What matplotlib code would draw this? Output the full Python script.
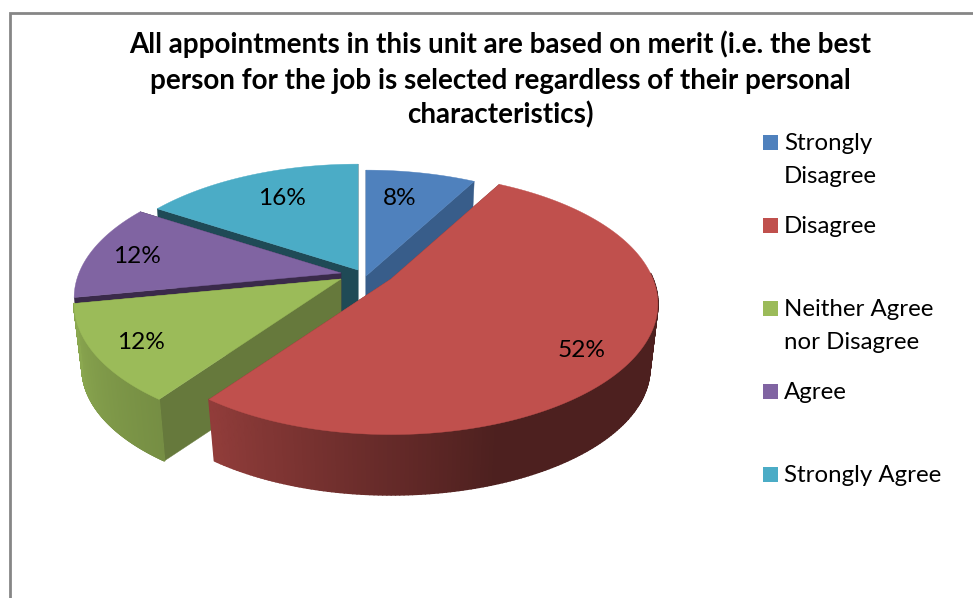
import numpy as np
import matplotlib
matplotlib.use('Agg')
import matplotlib.pyplot as plt
from matplotlib.collections import PolyCollection
from matplotlib.patches import Rectangle

title_lines = ['All appointments in this unit are based on merit (i.e. the best',
               'person for the job is selected regardless of their personal',
               'characteristics)']
categories = ['Strongly\nDisagree', 'Disagree', 'Neither Agree\nnor Disagree', 'Agree', 'Strongly Agree']
values = [8, 52, 12, 12, 16]

# colours for top and cut faces
top_colors = ['#4f81bd', '#c0504d', '#9bbb59', '#8064a2', '#4bacc6']
cut_colors = ['#385d8a', '#7a3230', '#66793c', '#3a2a4a', '#1f4a56']

# layout, in pixels of the picture
apexes = [(366, 276), (391, 279), (341, 279), (341, 273), (358, 270)]
label_pos = [(400, 205), (582, 357), (141, 349), (137, 263), (282, 205)]
draw_order = [4, 0, 3, 2, 1]
rim_slices = [1, 2]  # the others have their rim hidden behind these
radius_x = 262
radius_y = 126
persp = 0.19
bottom_scale = 0.97
bottom_drop = 65

plt.rcParams['font.family'] = ['Lato', 'DejaVu Sans']


def project(theta, r, apex, bottom=False):
    px = r * np.sin(theta)
    py = r * np.cos(theta)
    s = 1 / (1 + persp * py)
    if bottom:
        s = s * bottom_scale
    x = apex[0] + radius_x * px * s
    y = apex[1] - radius_y * py * s
    if bottom:
        y = y + bottom_drop
    return x, y


def shade(color, deg):
    # side gets darker towards the right hand side
    f = np.interp(deg, [160, 216, 259, 300], [0.40, 0.76, 0.90, 0.90])
    return tuple(c * f for c in matplotlib.colors.to_rgb(color))


fig = plt.figure(figsize=(9.73, 5.98), dpi=100)
ax = fig.add_axes([0, 0, 1, 1])
ax.set_xlim(0, 973)
ax.set_ylim(598, 0)
ax.axis('off')

# outer frame, only left and top are in the crop
ax.plot([9.5, 9.5, 973], [598, 12.5, 12.5], color='#868686', lw=2, solid_joinstyle='miter')

stops = np.cumsum([0] + values) / sum(values) * 2 * np.pi

for i in draw_order:
    apex = apexes[i]
    t0, t1 = stops[i], stops[i + 1]
    arc = np.linspace(t0, t1, 240)

    # the two cut faces
    for t in (t0, t1):
        xt, yt = project(t, 1, apex)
        xb, yb = project(t, 1, apex, bottom=True)
        ax_, ay_ = project(t, 0, apex)
        bx_, by_ = project(t, 0, apex, bottom=True)
        ax.fill([ax_, xt, xb, bx_], [ay_, yt, yb, by_], color=cut_colors[i], lw=0.3)

    # rim, small quads so it can carry the gradient. back half is not seen
    xt, yt = project(arc, 1, apex)
    xb, yb = project(arc, 1, apex, bottom=True)
    if i in rim_slices:
        quads = []
        cols = []
        for k in range(len(arc) - 1):
            if np.cos(arc[k]) > 0.05:
                continue
            quads.append([(xt[k], yt[k]), (xt[k + 1], yt[k + 1]), (xb[k + 1], yb[k + 1]), (xb[k], yb[k])])
            cols.append(shade(top_colors[i], np.degrees(arc[k])))
        ax.add_collection(PolyCollection(quads, facecolors=cols, edgecolors=cols, linewidths=1.2))

    # top
    ax.fill(np.r_[apex[0], xt], np.r_[apex[1], yt], color=top_colors[i], lw=0.3)

for i, v in enumerate(values):
    ax.text(label_pos[i][0], label_pos[i][1], '%d%%' % v, fontsize=17.6, ha='center', va='baseline', color='black')

for line, y in zip(title_lines, [53, 89, 123]):
    ax.text(500.5, y, line, fontsize=20.0, fontweight='bold', ha='center', va='baseline', color='black')

# legend rows are evenly spaced, labels wrap inside them
for i, name in enumerate(categories):
    top = 135 + 83 * i
    ax.add_patch(Rectangle((763, top), 15, 15, facecolor=top_colors[i], edgecolor='none'))
    for j, part in enumerate(name.split('\n')):
        ax.text(784, top + 15 + 33 * j, part, fontsize=17.3, ha='left', va='baseline', color='black')

fig.savefig('out.png', dpi=100)
